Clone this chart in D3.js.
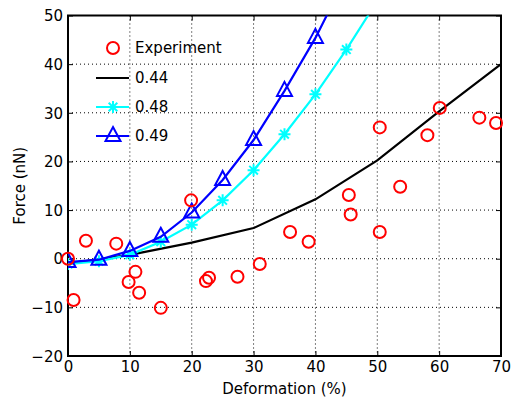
<!DOCTYPE html>
<html><head><meta charset="utf-8">
<script src="https://cdn.jsdelivr.net/npm/d3@7"></script>
<style>body{margin:0;background:#fff}svg text{font-family:"DejaVu Sans",sans-serif}</style>
</head><body>
<script>
const expX = [0, 0.9, 2.9, 7.8, 9.8, 10.9, 11.5, 15, 19.9, 22.3, 22.8, 27.4, 31, 35.9, 38.9, 45.4, 45.7, 50.4, 50.4, 53.7, 58.1, 60.1, 66.5, 69.2];
const expY = [0, -8.5, 3.7, 3.1, -4.8, -2.7, -7, -10.1, 12, -4.6, -3.9, -3.7, -1.1, 5.5, 3.5, 13.1, 9.1, 5.5, 27, 14.8, 25.4, 31, 29, 27.9];
const x44 = [0, 10, 20, 30, 40, 50, 60, 70];
const y44 = [-1, 0.8, 3.3, 6.3, 12.2, 20.2, 30.3, 40];
const x48 = [0, 5, 10, 15, 20, 25, 30, 35, 40, 45, 50];
const y48 = [-1.1, -0.5, 0.8, 3.5, 7, 12, 18.2, 25.6, 33.8, 43, 53];
const x49 = [0, 5, 10, 15, 20, 25, 30, 35, 40, 45];
const y49 = [-0.7, -0.2, 1.6, 4.5, 9.5, 16.2, 24.4, 34.5, 45.4, 58];
const xTicks = [0, 10, 20, 30, 40, 50, 60, 70];
const yTicks = [-20, -10, 0, 10, 20, 30, 40, 50];
const legendLabels = ["Experiment", "0.44", "0.48", "0.49"];

const W = 516, H = 399;
const L = 68, R = 501, T = 15.5, B = 356;
const FS = "15px";
const svg = d3.select("body").append("svg").attr("width", W).attr("height", H);
const x = d3.scaleLinear().domain([0, 70]).range([L, R]);
const y = d3.scaleLinear().domain([-20, 50]).range([B, T]);

svg.append("defs").append("clipPath").attr("id", "clip")
  .append("rect").attr("x", L).attr("y", T).attr("width", R - L).attr("height", B - T);

// grid
const g = svg.append("g");
g.selectAll(".gx").data(xTicks.slice(1, -1)).enter().append("line")
  .attr("x1", d => x(d)).attr("x2", d => x(d)).attr("y1", T).attr("y2", B)
  .attr("stroke", "#000").attr("stroke-width", 1).attr("stroke-dasharray", "1,3");
g.selectAll(".gy").data(yTicks.slice(1, -1)).enter().append("line")
  .attr("y1", d => y(d)).attr("y2", d => y(d)).attr("x1", L).attr("x2", R)
  .attr("stroke", "#000").attr("stroke-width", 1).attr("stroke-dasharray", "1,3");

// axes
const fmt = d => d < 0 ? "\u2212" + Math.abs(d) : String(d);
const ax = svg.append("g").attr("transform", `translate(0,${B})`)
  .call(d3.axisBottom(x).tickValues(xTicks).tickSizeInner(-5).tickSizeOuter(0).tickPadding(5).tickFormat(fmt));
const axT = svg.append("g").attr("transform", `translate(0,${T})`)
  .call(d3.axisTop(x).tickValues(xTicks).tickSizeInner(-5).tickSizeOuter(0).tickFormat(""));
const ay = svg.append("g").attr("transform", `translate(${L},0)`)
  .call(d3.axisLeft(y).tickValues(yTicks).tickSizeInner(-5).tickSizeOuter(0).tickPadding(5).tickFormat(fmt));
const ayR = svg.append("g").attr("transform", `translate(${R},0)`)
  .call(d3.axisRight(y).tickValues(yTicks).tickSizeInner(-5).tickSizeOuter(0).tickFormat(""));
[ax, axT, ay, ayR].forEach(a => {
  a.select(".domain").remove();
  a.selectAll("line").attr("stroke", "#000").attr("stroke-width", 1);
  a.selectAll("text").attr("fill", "#000").style("font-size", FS).style("font-family", "'DejaVu Sans',sans-serif");
});
ay.selectAll("text").attr("dy", "0.35em");
svg.append("rect").attr("x", L).attr("y", T).attr("width", R - L).attr("height", B - T)
  .attr("fill", "none").attr("stroke", "#000").attr("stroke-width", 2);

svg.append("text").attr("x", (L + R) / 2).attr("y", 394).attr("text-anchor", "middle")
  .style("font-size", FS).text("Deformation (%)");
svg.append("text").attr("transform", `translate(25,${(T + B) / 2}) rotate(-90)`).attr("text-anchor", "middle")
  .style("font-size", FS).text("Force (nN)");

const line = d3.line().x(d => x(d[0])).y(d => y(d[1]));
const plot = svg.append("g").attr("clip-path", "url(#clip)");

const starPath = r => {
  const a = r * 0.72;
  return `M${-r},0L${r},0M0,${-r}L0,${r}M${-a},${-a}L${a},${a}M${-a},${a}L${a},${-a}`;
};
const triPath = "M0,-9L7.5,5L-7.5,5Z";

// 0.44
plot.append("path").datum(d3.zip(x44, y44)).attr("d", line)
  .attr("fill", "none").attr("stroke", "#000").attr("stroke-width", 2.2);
// 0.48
plot.append("path").datum(d3.zip(x48, y48)).attr("d", line)
  .attr("fill", "none").attr("stroke", "#00ffff").attr("stroke-width", 2.2);
plot.selectAll(".st").data(d3.zip(x48, y48)).enter().append("path")
  .attr("transform", d => `translate(${x(d[0])},${y(d[1])})`).attr("d", starPath(6))
  .attr("stroke", "#00ffff").attr("stroke-width", 2).attr("fill", "none");
// 0.49
plot.append("path").datum(d3.zip(x49, y49)).attr("d", line)
  .attr("fill", "none").attr("stroke", "#0000ff").attr("stroke-width", 2.2);
plot.selectAll(".tr").data(d3.zip(x49, y49)).enter().append("path")
  .attr("transform", d => `translate(${x(d[0])},${y(d[1])})`).attr("d", triPath)
  .attr("stroke", "#0000ff").attr("stroke-width", 2).attr("fill", "none");
// experiment
svg.selectAll(".ex").data(d3.zip(expX, expY)).enter().append("circle")
  .attr("cx", d => x(d[0])).attr("cy", d => y(d[1])).attr("r", 6)
  .attr("fill", "none").attr("stroke", "#ff0000").attr("stroke-width", 2);

// legend
const lg = svg.append("g");
const ly = [48, 78, 107, 136];
lg.append("circle").attr("cx", 113).attr("cy", ly[0]).attr("r", 6)
  .attr("fill", "none").attr("stroke", "#ff0000").attr("stroke-width", 2);
const lcol = ["#000", "#00ffff", "#0000ff"];
[1, 2, 3].forEach(i => {
  lg.append("line").attr("x1", 96).attr("x2", 129).attr("y1", ly[i]).attr("y2", ly[i])
    .attr("stroke", lcol[i - 1]).attr("stroke-width", 2.2);
});
lg.append("path").attr("transform", `translate(113,${ly[2]})`).attr("d", starPath(6))
  .attr("stroke", "#00ffff").attr("stroke-width", 2).attr("fill", "none");
lg.append("path").attr("transform", `translate(113,${ly[3]})`).attr("d", triPath)
  .attr("stroke", "#0000ff").attr("stroke-width", 2).attr("fill", "none");
legendLabels.forEach((t, i) => {
  lg.append("text").attr("x", 135).attr("y", ly[i]).attr("dy", "0.35em")
    .style("font-size", FS).attr("fill", "#000").text(t);
});
</script>
</body></html>
